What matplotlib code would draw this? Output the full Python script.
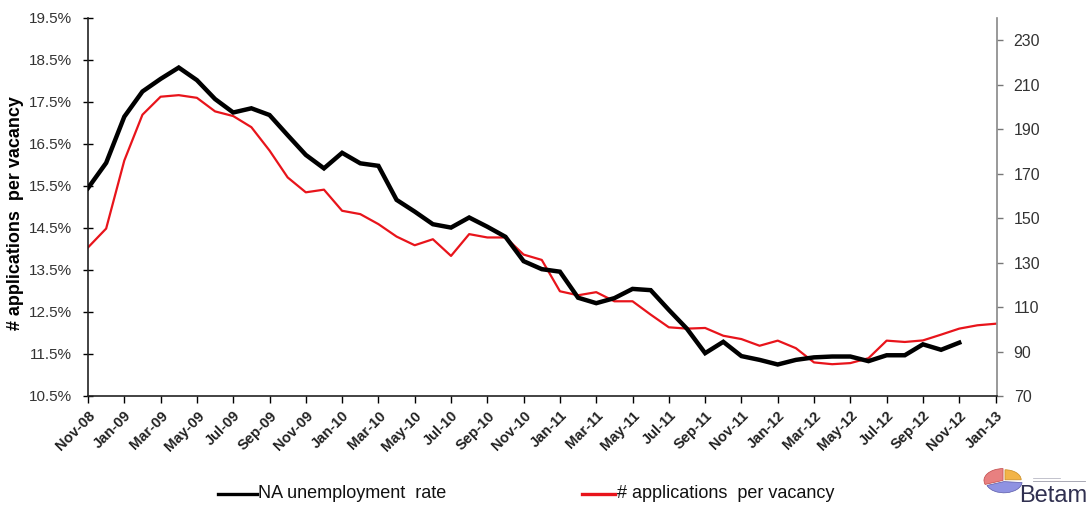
import matplotlib
matplotlib.use("Agg")
import matplotlib.pyplot as plt
from matplotlib.patches import Wedge
from matplotlib.lines import Line2D

plt.rcParams['font.family'] = ['Liberation Sans', 'DejaVu Sans']

# Monthly series, Nov-08 .. Jan-13
months = ["Nov-08", "Dec-08", "Jan-09", "Feb-09", "Mar-09", "Apr-09", "May-09", "Jun-09",
          "Jul-09", "Aug-09", "Sep-09", "Oct-09", "Nov-09", "Dec-09", "Jan-10", "Feb-10",
          "Mar-10", "Apr-10", "May-10", "Jun-10", "Jul-10", "Aug-10", "Sep-10", "Oct-10",
          "Nov-10", "Dec-10", "Jan-11", "Feb-11", "Mar-11", "Apr-11", "May-11", "Jun-11",
          "Jul-11", "Aug-11", "Sep-11", "Oct-11", "Nov-11", "Dec-11", "Jan-12", "Feb-12",
          "Mar-12", "Apr-12", "May-12", "Jun-12", "Jul-12", "Aug-12", "Sep-12", "Oct-12",
          "Nov-12", "Dec-12", "Jan-13"]

# NA unemployment rate (%), Nov-08 .. Nov-12
unemployment = [15.45, 16.05, 17.15, 17.75, 18.05, 18.32, 18.02, 17.57, 17.25, 17.35,
                17.19, 16.71, 16.24, 15.92, 16.29, 16.04, 15.98, 15.17, 14.89, 14.59,
                14.51, 14.75, 14.53, 14.29, 13.71, 13.52, 13.46, 12.84, 12.71, 12.83,
                13.05, 13.02, 12.55, 12.10, 11.52, 11.79, 11.45, 11.36, 11.25, 11.36,
                11.42, 11.44, 11.44, 11.33, 11.47, 11.47, 11.73, 11.60, 11.77]

# Number of applications per vacancy, Nov-08 .. Jan-13
applications = [136.8, 145.3, 175.9, 196.5, 204.6, 205.3, 204.1, 198.0, 195.9, 190.9,
                180.4, 168.3, 161.6, 162.8, 153.3, 151.8, 147.3, 141.7, 137.8, 140.5,
                133.0, 142.8, 141.3, 141.3, 133.6, 131.2, 117.1, 115.3, 116.7, 112.6,
                112.6, 106.6, 100.9, 100.3, 100.6, 97.1, 95.6, 92.6, 94.9, 91.5,
                85.1, 84.3, 84.8, 87.0, 94.9, 94.3, 95.0, 97.6, 100.3, 101.8, 102.5]

left_ticks = [10.5, 11.5, 12.5, 13.5, 14.5, 15.5, 16.5, 17.5, 18.5, 19.5]
right_ticks = [70, 90, 110, 130, 150, 170, 190, 210, 230]

series_names = ["NA unemployment  rate", "# applications  per vacancy"]
series_colors = ["black", "#e8141b"]

W, H = 1089, 505
fig = plt.figure(figsize=(W / 100, H / 100), dpi=100)
ax = fig.add_axes([88 / W, 1 - 396 / H, (997 - 88) / W, (396 - 18) / H])
ax2 = ax.twinx()

x_u = list(range(len(unemployment)))
x_a = list(range(len(applications)))
ax.plot(x_u, unemployment, color=series_colors[0], lw=3.2, solid_joinstyle="miter", zorder=3)
ax2.plot(x_a, applications, color=series_colors[1], lw=1.6, zorder=2)
ax.set_zorder(ax2.get_zorder() + 1)
ax.patch.set_visible(False)

ax.set_xlim(0, 50.08)
ax.set_ylim(10.5, 19.5)
ax2.set_ylim(70, 240)

ax.set_yticks(left_ticks)
ax.set_yticklabels([f"{v:.1f}%" for v in left_ticks], fontsize=11, color="#333333")
ax2.set_yticks(right_ticks)
ax2.set_yticklabels([str(v) for v in right_ticks], fontsize=11.5, color="#333333")

ax.set_xticks(range(0, len(months), 2))
ax.set_xticklabels(months[::2], rotation=45, ha="right", va="top",
                   rotation_mode="anchor", fontsize=10.5, fontweight="bold", color="#222222")
ax.tick_params(axis="x", direction="out", length=5, width=1, pad=4)
ax.tick_params(axis="y", direction="inout", length=7, width=1, pad=8)
ax2.tick_params(axis="y", direction="out", length=4, width=1, color="#777777", pad=8)

for a in (ax, ax2):
    a.spines["top"].set_visible(False)
ax.spines["right"].set_visible(False)
ax.spines["left"].set_color("#222222")
ax.spines["bottom"].set_color("#222222")
ax.spines["left"].set_linewidth(1.2)
ax.spines["bottom"].set_linewidth(1.2)
ax2.spines["left"].set_visible(False)
ax2.spines["bottom"].set_visible(False)
ax2.spines["right"].set_color("#888888")
ax2.spines["right"].set_linewidth(1.2)

fig.text(16 / W, 1 - 213 / H, "# applications  per vacancy", rotation=90,
         fontsize=13, fontweight="bold", ha="center", va="center")

# Legend entries below the axes
legend_y = 1 - 494 / H
for (x0, x1, xt), name, col in zip([(218, 257, 258), (582, 615, 617)], series_names, series_colors):
    fig.add_artist(Line2D([x0 / W, x1 / W], [legend_y, legend_y], color=col, lw=2.4))
    fig.text(xt / W, legend_y, name, fontsize=13, color="#111111", ha="left", va="center")

# Betam logo: flattened pie plus wordmark
pax = fig.add_axes([983 / W, 1 - 494 / H, 42 / W, 26 / H])
pax.set_xlim(-1.1, 1.1)
pax.set_ylim(-1.1, 1.1)
pax.axis("off")
pax.add_patch(Wedge((-0.05, 0.05), 1.0, 90, 200, facecolor="#e88080", edgecolor="#c04848", lw=0.5))
pax.add_patch(Wedge((0.05, 0.1), 0.85, 0, 90, facecolor="#f2b448", edgecolor="#c88a20", lw=0.5))
pax.add_patch(Wedge((0.0, -0.05), 0.95, 200, 355, facecolor="#8f92e2", edgecolor="#5a5aa8", lw=0.5))

lax = fig.add_axes([1015 / W, 0, 74 / W, 40 / H])
lax.set_xlim(0, 74)
lax.set_ylim(0, 40)
lax.axis("off")
lax.text(72, 3, "Betam", fontsize=17, color="#303050", ha="right", va="baseline")
lax.plot([18, 70], [24, 24], color="#9a9aa8", lw=0.6)
lax.plot([18, 45], [27, 27], color="#aaaab8", lw=0.5)

fig.savefig("out.png", dpi=100)
